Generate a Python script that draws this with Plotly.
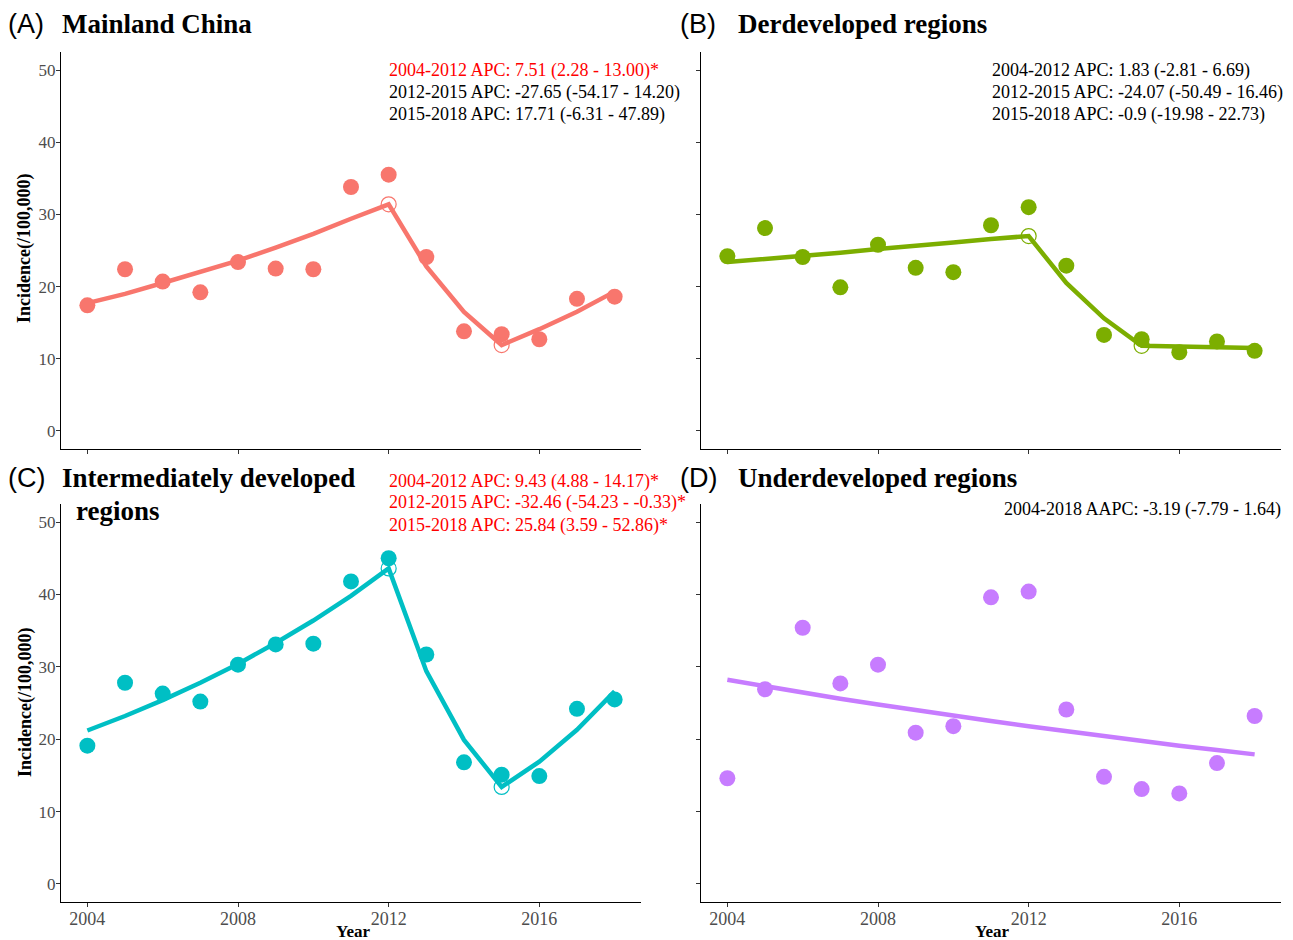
import plotly.graph_objects as go

years = list(range(2004, 2019))

# Observed incidence (/100,000)
obs_china = [17.4, 22.4, 20.7, 19.2, 23.4, 22.5, 22.4, 33.8, 35.5, 24.1, 13.8, 13.4, 12.7, 18.3, 18.6]
obs_der = [24.2, 28.1, 24.1, 19.9, 25.8, 22.6, 22.0, 28.5, 31.0, 22.9, 13.3, 12.7, 10.9, 12.4, 11.1]
obs_inter = [19.1, 27.8, 26.3, 25.2, 30.3, 33.1, 33.2, 41.8, 45.0, 31.7, 16.8, 15.1, 14.9, 24.2, 25.5]
obs_under = [14.6, 26.9, 35.4, 27.7, 30.3, 20.9, 21.8, 39.6, 40.4, 24.1, 14.8, 13.1, 12.5, 16.7, 23.2]

# Fitted (joinpoint model) values
fit_china = [17.7, 19.0, 20.5, 22.0, 23.6, 25.4, 27.3, 29.4, 31.4, 22.8, 16.5, 11.9, 14.1, 16.5, 19.3]
fit_der = [23.4, 23.8, 24.3, 24.7, 25.2, 25.6, 26.1, 26.6, 27.0, 20.5, 15.6, 11.8, 11.7, 11.6, 11.5]
fit_inter = [21.2, 23.2, 25.4, 27.8, 30.4, 33.3, 36.4, 39.8, 43.6, 29.4, 19.9, 13.4, 16.9, 21.3, 26.6]
fit_under = [28.2, 27.3, 26.4, 25.6, 24.8, 24.0, 23.2, 22.5, 21.8, 21.1, 20.4, 19.7, 19.1, 18.5, 17.9]

# Joinpoints (years)
jp_china = [2012, 2015]
jp_der = [2012, 2015]
jp_inter = [2012, 2015]
jp_under = []

panel_letters = ["(A)", "(B)", "(C)", "(D)"]
panel_titles = ["Mainland China", "Derdeveloped regions", "Intermediately developed", "Underdeveloped regions"]

apc_china = ["2004-2012 APC: 7.51 (2.28 - 13.00)*", "2012-2015 APC: -27.65 (-54.17 - 14.20)", "2015-2018 APC: 17.71 (-6.31 - 47.89)"]
apc_der = ["2004-2012 APC: 1.83 (-2.81 - 6.69)", "2012-2015 APC: -24.07 (-50.49 - 16.46)", "2015-2018 APC: -0.9 (-19.98 - 22.73)"]
apc_inter = ["2004-2012 APC: 9.43 (4.88 - 14.17)*", "2012-2015 APC: -32.46 (-54.23 - -0.33)*", "2015-2018 APC: 25.84 (3.59 - 52.86)*"]
apc_under = ["2004-2018 AAPC: -3.19 (-7.79 - 1.64)"]

colors = ["#F8766D", "#7CAE00", "#00BFC4", "#C77CFF"]

W, H = 1293, 940
SERIF = "Liberation Serif, Times New Roman, serif"
SANS = "Liberation Sans, Arial, sans-serif"

# plot areas in page pixels (left, top, right, bottom)
areas = [(61, 52, 641, 449), (701, 52, 1281, 449), (61, 504, 641, 902), (701, 504, 1281, 902)]

fig = go.Figure()

panels = [
    (obs_china, fit_china, jp_china),
    (obs_der, fit_der, jp_der),
    (obs_inter, fit_inter, jp_inter),
    (obs_under, fit_under, jp_under),
]

for i, (obs, fit, jps) in enumerate(panels):
    ax = "" if i == 0 else str(i + 1)
    xa, ya = "x" + ax, "y" + ax
    c = colors[i]
    fig.add_trace(go.Scatter(x=years, y=fit, mode="lines", line=dict(color=c, width=4.5),
                             xaxis=xa, yaxis=ya, showlegend=False, hoverinfo="skip"))
    fig.add_trace(go.Scatter(x=years, y=obs, mode="markers", marker=dict(color=c, size=16, line=dict(width=0)),
                             xaxis=xa, yaxis=ya, showlegend=False))
    if jps:
        jy = [fit[years.index(y)] for y in jps]
        fig.add_trace(go.Scatter(x=jps, y=jy, mode="markers",
                                 marker=dict(symbol="circle-open", color=c, size=15, line=dict(width=1.2, color=c)),
                                 xaxis=xa, yaxis=ya, showlegend=False))

    l, t, r, b = areas[i]
    xdom = [l / W, r / W]
    ydom = [1 - b / H, 1 - t / H]
    bottom_row = i >= 2
    left_col = i % 2 == 0
    xkey = "xaxis" + ax
    ykey = "yaxis" + ax
    fig.update_layout(**{
        xkey: dict(domain=xdom, anchor=ya, range=[2003.3, 2018.7],
                   tickvals=[2004, 2008, 2012, 2016], ticktext=["2004", "2008", "2012", "2016"],
                   showticklabels=bottom_row, showline=True, linecolor="black", linewidth=1.3,
                   ticks="outside", ticklen=4, tickcolor="#333333", tickwidth=1,
                   ticklabelstandoff=-4,
                   showgrid=False, zeroline=False,
                   tickfont=dict(family=SERIF, size=18, color="#4D4D4D")),
        ykey: dict(domain=ydom, anchor=xa, range=[-2.5, 52.5],
                   tickvals=[0, 10, 20, 30, 40, 50],
                   showticklabels=left_col, showline=True, linecolor="black", linewidth=1.3,
                   ticks="outside", ticklen=4, tickcolor="#333333", tickwidth=1,
                   ticklabelstandoff=-3,
                   showgrid=False, zeroline=False,
                   tickfont=dict(family=SERIF, size=17, color="#4D4D4D")),
    })

ann = []

def px_ann(x, y, text, size, family, color="black", bold=False, xanchor="left", angle=0):
    ann.append(dict(x=x / W, y=1 - y / H, xref="paper", yref="paper",
                    text=("<b>%s</b>" % text) if bold else text,
                    showarrow=False, xanchor=xanchor, yanchor="middle", textangle=angle,
                    font=dict(family=family, size=size, color=color)))

# panel letters and titles
px_ann(6, 24, panel_letters[0], 27, SANS)
px_ann(60, 24, panel_titles[0], 27, SERIF, bold=True)
px_ann(678, 24, panel_letters[1], 27, SANS)
px_ann(736, 24, panel_titles[1], 27, SERIF, bold=True)
px_ann(6, 478, panel_letters[2], 27, SANS)
px_ann(60, 478, panel_titles[2], 27, SERIF, bold=True)
px_ann(74, 511, "regions", 27, SERIF, bold=True)
px_ann(678, 478, panel_letters[3], 27, SANS)
px_ann(736, 478, panel_titles[3], 27, SERIF, bold=True)

# APC annotations
for k, line in enumerate(apc_china):
    px_ann(387, 70 + 22 * k, line, 18, SERIF, color="#FF0000" if line.endswith("*") else "black")
for k, line in enumerate(apc_der):
    px_ann(990, 70 + 22 * k, line, 18, SERIF, color="#FF0000" if line.endswith("*") else "black")
for k, line in enumerate(apc_inter):
    px_ann(387, 481 + 22 * k, line, 18, SERIF, color="#FF0000" if line.endswith("*") else "black")
for k, line in enumerate(apc_under):
    px_ann(1283, 510 + 22 * k, line, 18, SERIF, color="#FF0000" if line.endswith("*") else "black", xanchor="right")

# axis titles
px_ann(25, 249, "Incidence(/100,000)", 18, SERIF, bold=True, xanchor="center", angle=-90)
px_ann(25, 703, "Incidence(/100,000)", 18, SERIF, bold=True, xanchor="center", angle=-90)
px_ann(353, 931, "Year", 17, SERIF, bold=True, xanchor="center")
px_ann(992, 931, "Year", 17, SERIF, bold=True, xanchor="center")

fig.update_layout(width=W, height=H, margin=dict(l=0, r=0, t=0, b=0),
                  paper_bgcolor="white", plot_bgcolor="white", annotations=ann, showlegend=False)

fig.write_html("out.html", config={"displayModeBar": False},
               post_script="document.body.style.margin='0';document.body.style.overflow='hidden';")
